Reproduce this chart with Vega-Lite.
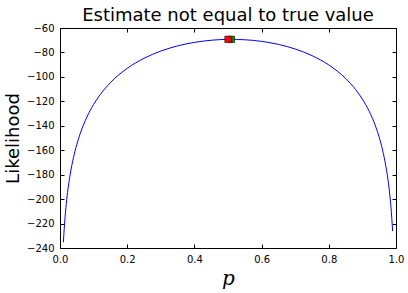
{
  "$schema": "https://vega.github.io/schema/vega-lite/v6.json",
  "width": 336,
  "height": 220,
  "autosize": "none",
  "padding": {"left": 60, "top": 28, "right": 12, "bottom": 45},
  "background": "white",
  "title": {"text": "Estimate not equal to true value", "fontSize": 18, "font": "DejaVu Sans", "fontWeight": "normal", "color": "black", "anchor": "middle", "offset": -2},
  "config": {
    "view": {"stroke": "black", "strokeWidth": 1},
    "axis": {"domain": false, "grid": false, "tickColor": "black", "tickSize": -4, "labelFlush": false, "labelColor": "black", "labelFont": "DejaVu Sans", "labelFontSize": 10, "titleColor": "black", "titleFontWeight": "normal"}
  },
  "datasets": {
    "curve": [
      {"p": 0.01, "L": -235.36}, {"p": 0.015, "L": -214.92}, {"p": 0.02, "L": -200.50},
      {"p": 0.03, "L": -180.33}, {"p": 0.04, "L": -166.16}, {"p": 0.05, "L": -155.29},
      {"p": 0.06, "L": -146.52}, {"p": 0.08, "L": -132.90}, {"p": 0.10, "L": -122.60},
      {"p": 0.12, "L": -114.40}, {"p": 0.15, "L": -104.72}, {"p": 0.2, "L": -93.01},
      {"p": 0.25, "L": -84.80}, {"p": 0.3, "L": -78.88}, {"p": 0.35, "L": -74.65},
      {"p": 0.4, "L": -71.76}, {"p": 0.45, "L": -70.02}, {"p": 0.5, "L": -69.31},
      {"p": 0.55, "L": -69.62}, {"p": 0.6, "L": -70.95}, {"p": 0.65, "L": -73.41},
      {"p": 0.7, "L": -77.19}, {"p": 0.75, "L": -82.60}, {"p": 0.8, "L": -90.24},
      {"p": 0.85, "L": -101.25}, {"p": 0.88, "L": -110.41}, {"p": 0.9, "L": -118.20},
      {"p": 0.92, "L": -128.01}, {"p": 0.94, "L": -141.02}, {"p": 0.95, "L": -149.41},
      {"p": 0.96, "L": -159.81}, {"p": 0.97, "L": -173.37}, {"p": 0.98, "L": -192.72},
      {"p": 0.985, "L": -206.56}, {"p": 0.99, "L": -226.16}
    ],
    "estimate": [{"p": 0.51, "L": -69.29}],
    "truth": [{"p": 0.5, "L": -69.31}]
  },
  "layer": [
    {
      "data": {"name": "curve"},
      "mark": {"type": "line", "color": "#0000ff", "strokeWidth": 1, "interpolate": "monotone"},
      "encoding": {
        "x": {"field": "p", "type": "quantitative", "scale": {"domain": [0, 1], "nice": false},
          "axis": {"orient": "bottom", "values": [0, 0.2, 0.4, 0.6, 0.8, 1.0], "format": ".1f", "labelPadding": 10, "title": "p", "titleFont": "DejaVu Serif", "titleFontStyle": "italic", "titleFontSize": 20, "titlePadding": 4}},
        "y": {"field": "L", "type": "quantitative", "scale": {"domain": [-240, -60], "nice": false},
          "axis": {"orient": "left", "values": [-240, -220, -200, -180, -160, -140, -120, -100, -80, -60], "labelPadding": 10, "title": "Likelihood", "titleFont": "DejaVu Sans", "titleFontSize": 18, "titlePadding": 4}}
      }
    },
    {
      "data": {"name": "estimate"},
      "mark": {"type": "square", "size": 42, "opacity": 1, "color": "#008000", "stroke": "black", "strokeWidth": 0.5},
      "encoding": {
        "x": {"field": "p", "type": "quantitative", "axis": {"orient": "top", "values": [0, 0.2, 0.4, 0.6, 0.8, 1.0], "labels": false, "title": null}},
        "y": {"field": "L", "type": "quantitative", "axis": {"orient": "right", "values": [-240, -220, -200, -180, -160, -140, -120, -100, -80, -60], "labels": false, "title": null}}
      }
    },
    {
      "data": {"name": "truth"},
      "mark": {"type": "square", "size": 42, "opacity": 1, "color": "#ff0000", "stroke": "black", "strokeWidth": 0.5},
      "encoding": {
        "x": {"field": "p", "type": "quantitative", "axis": null},
        "y": {"field": "L", "type": "quantitative", "axis": null}
      }
    }
  ],
  "resolve": {"axis": {"x": "independent", "y": "independent"}}
}
